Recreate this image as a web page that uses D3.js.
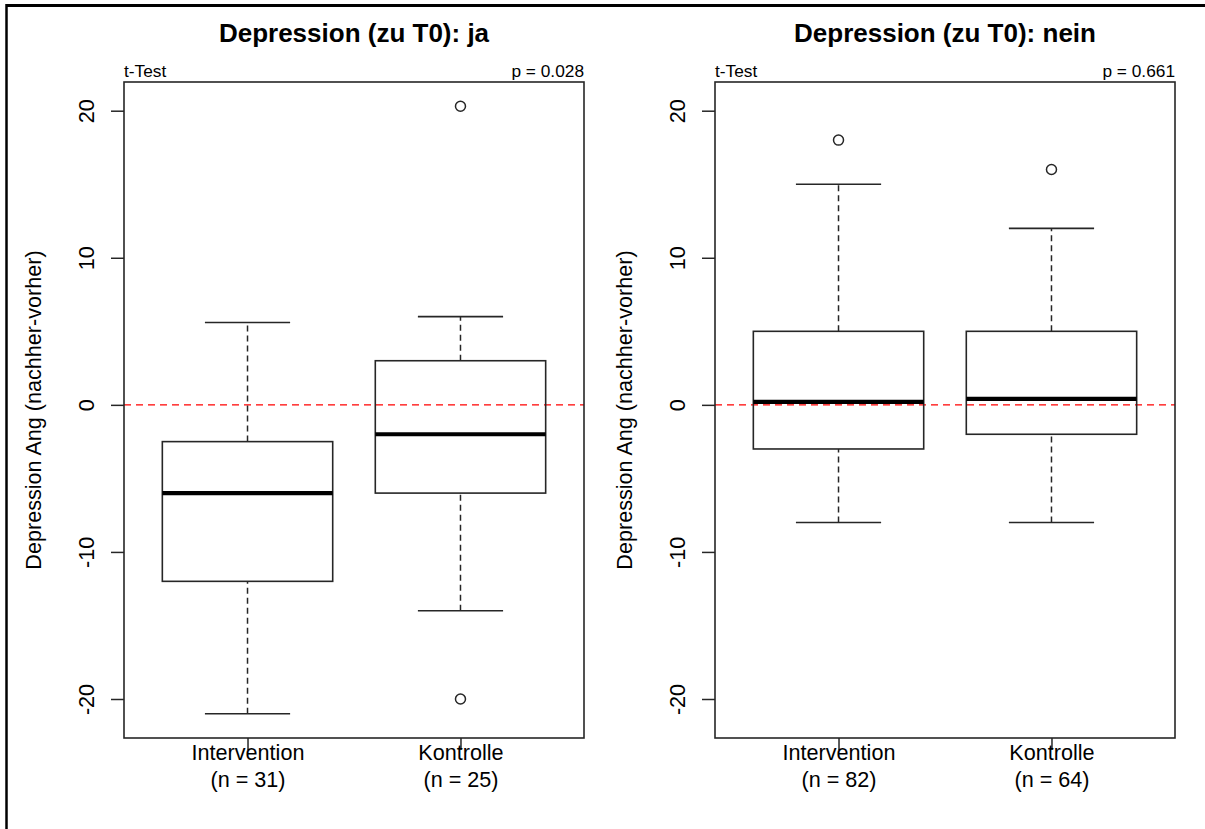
<!DOCTYPE html>
<html>
<head>
<meta charset="utf-8">
<script src="https://cdn.jsdelivr.net/npm/d3@7"></script>
<style>
  body { margin: 0; background: #fff; }
  svg { display: block; font-family: "Liberation Sans", Arial, sans-serif; }
</style>
</head>
<body>
<svg id="chart"></svg>
<script>
const width = 1205;
const height = 829;

// data
const panelTitles = ["Depression (zu T0): ja", "Depression (zu T0): nein"];
const pLabels = ["p = 0.028", "p = 0.661"];
const groups = ["Intervention", "Kontrolle"];
const groupN = [[31, 25], [82, 64]];
const whiskerLow = [[-21, -14], [-8, -8]];
const q1 = [[-12, -6], [-3, -2]];
const medians = [[-6, -2], [0.2, 0.4]];
const q3 = [[-2.5, 3], [5, 5]];
const whiskerHigh = [[5.6, 6], [15, 12]];
const outliers = [[[], [20.3, -20]], [[18], [16]]];
const yTicks = [-20, -10, 0, 10, 20];
const yLabel = "Depression Ang (nachher-vorher)";

const svg = d3.select("#chart")
  .attr("width", width)
  .attr("height", height);

// frame of the figure (only top and left visible)
svg.append("line").attr("x1", 6).attr("x2", width).attr("y1", 5.5).attr("y2", 5.5)
  .attr("stroke", "#000").attr("stroke-width", 3);
svg.append("line").attr("x1", 6.5).attr("x2", 6.5).attr("y1", 4).attr("y2", height)
  .attr("stroke", "#000").attr("stroke-width", 2.5);

const plotTop = 82, plotBottom = 738, plotWidth = 460;
const panelLeft = [124, 715];

// shared y range, extended by 4% like R
const allValues = whiskerLow.flat().concat(whiskerHigh.flat(), outliers.flat(2));
const yMin = d3.min(allValues), yMax = d3.max(allValues);
const pad = (yMax - yMin) * 0.04;
const y = d3.scaleLinear().domain([yMin - pad, yMax + pad]).range([plotBottom, plotTop]);

const lineColor = "#262626";

panelTitles.forEach((title, p) => {
  const left = panelLeft[p];
  const x = d3.scaleLinear().domain([0.42, 2.58]).range([left, left + plotWidth]);
  const g = svg.append("g");
  const boxHalf = x(1.4) - x(1); // boxwex 0.8
  const capHalf = x(1.2) - x(1);

  // red reference line at 0
  g.append("line")
    .attr("x1", left).attr("x2", left + plotWidth)
    .attr("y1", y(0)).attr("y2", y(0))
    .attr("stroke", "#ff0000").attr("stroke-width", 1.4)
    .attr("stroke-dasharray", "7,5");

  groups.forEach((name, i) => {
    const cx = x(i + 1);

    // whiskers
    [[whiskerLow[p][i], q1[p][i]], [q3[p][i], whiskerHigh[p][i]]].forEach(([a, b]) => {
      g.append("line").attr("x1", cx).attr("x2", cx).attr("y1", y(a)).attr("y2", y(b))
        .attr("stroke", lineColor).attr("stroke-width", 1.5)
        .attr("stroke-dasharray", "6,4");
    });
    [whiskerLow[p][i], whiskerHigh[p][i]].forEach(v => {
      g.append("line").attr("x1", cx - capHalf).attr("x2", cx + capHalf)
        .attr("y1", y(v)).attr("y2", y(v))
        .attr("stroke", lineColor).attr("stroke-width", 1.6);
    });

    // box
    g.append("rect")
      .attr("x", cx - boxHalf).attr("width", boxHalf * 2)
      .attr("y", y(q3[p][i])).attr("height", y(q1[p][i]) - y(q3[p][i]))
      .attr("fill", "none").attr("stroke", lineColor).attr("stroke-width", 1.6);

    // median
    g.append("line").attr("x1", cx - boxHalf).attr("x2", cx + boxHalf)
      .attr("y1", y(medians[p][i])).attr("y2", y(medians[p][i]))
      .attr("stroke", "#000").attr("stroke-width", 4.2);

    // outliers
    g.selectAll(null).data(outliers[p][i]).enter().append("circle")
      .attr("cx", cx).attr("cy", d => y(d)).attr("r", 5)
      .attr("fill", "none").attr("stroke", lineColor).attr("stroke-width", 1.5);
  });

  // plot frame
  g.append("rect")
    .attr("x", left).attr("y", plotTop)
    .attr("width", plotWidth).attr("height", plotBottom - plotTop)
    .attr("fill", "none").attr("stroke", lineColor).attr("stroke-width", 1.6);

  // y axis
  const yAxis = g.append("g")
    .attr("transform", `translate(${left},0)`)
    .call(d3.axisLeft(y).tickValues(yTicks).tickSize(13).tickSizeOuter(0).tickFormat(d => String(d)));
  yAxis.select(".domain").remove();
  yAxis.selectAll(".tick line").attr("stroke", lineColor).attr("stroke-width", 1.5);
  yAxis.selectAll(".tick text")
    .attr("x", null).attr("dy", null)
    .attr("transform", "translate(-30,0) rotate(-90)")
    .attr("text-anchor", "middle")
    .attr("font-size", "21.6px")
    .attr("fill", "#000");

  // x axis
  const xAxis = g.append("g")
    .attr("transform", `translate(0,${plotBottom})`)
    .call(d3.axisBottom(x).tickValues([1, 2]).tickSize(12).tickSizeOuter(0).tickFormat(""));
  xAxis.select(".domain").remove();
  xAxis.selectAll(".tick line").attr("stroke", lineColor).attr("stroke-width", 1.5);
  const xt = xAxis.selectAll(".tick").append("text")
    .attr("text-anchor", "middle").attr("font-size", "21.6px").attr("fill", "#000");
  xt.append("tspan").attr("x", 0).attr("y", 22).text((d, i) => groups[i]);
  xt.append("tspan").attr("x", 0).attr("y", 49).text((d, i) => `(n = ${groupN[p][i]})`);

  // y label
  g.append("text")
    .attr("transform", `translate(${left - 83},${(plotTop + plotBottom) / 2}) rotate(-90)`)
    .attr("text-anchor", "middle").attr("font-size", "21.6px")
    .text(yLabel);

  // title and margin texts
  g.append("text")
    .attr("x", left + plotWidth / 2).attr("y", 42)
    .attr("text-anchor", "middle").attr("font-size", "26px").attr("font-weight", "bold")
    .text(title);
  g.append("text")
    .attr("x", left).attr("y", 77)
    .attr("font-size", "17.3px").text("t-Test");
  g.append("text")
    .attr("x", left + plotWidth).attr("y", 77)
    .attr("text-anchor", "end").attr("font-size", "17.3px").text(pLabels[p]);
});
</script>
</body>
</html>
